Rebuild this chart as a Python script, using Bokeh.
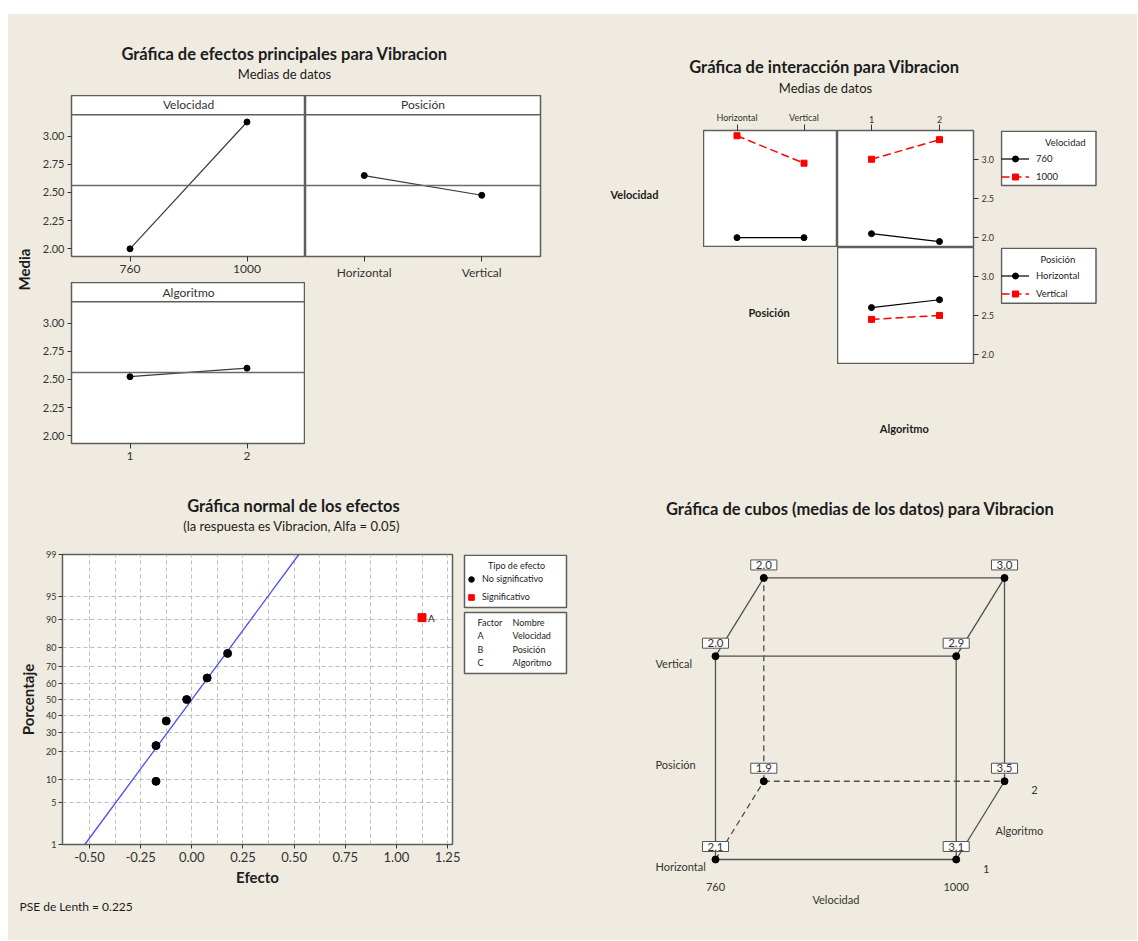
import math
from statistics import NormalDist
from bokeh.plotting import figure
from bokeh.models import (Range1d, FactorRange, FixedTicker, NumeralTickFormatter, Span, Label,
                          Legend, LegendItem, BoxAnnotation, Spacer)
from bokeh.layouts import row, column
from bokeh.core.properties import value
from bokeh.embed import file_html
from bokeh.resources import INLINE

BG = "#EFEBE1"
FONT = "Lato"
TXT = "#1c1c1c"
TICK = "#333333"
FRAME = "#5e5e5e"
LINEC = "#3a3a3a"
MEANC = "#6a6a6a"
RED = "#FF0000"
BLUE = "#4d4df0"
BGS = {"background-color": BG}

# ---------------- data ----------------
vel_levels = ["760", "1000"]
pos_levels = ["Horizontal", "Vertical"]
alg_levels = ["1", "2"]

# main effects (means of data)
vel_means = [2.000, 3.125]
pos_means = [2.650, 2.475]
alg_means = [2.525, 2.600]
grand_mean = 2.5625
me_ticks = [2.00, 2.25, 2.50, 2.75, 3.00]

# interaction means
int_vp_760 = [2.00, 2.00]
int_vp_1000 = [3.30, 2.95]
int_va_760 = [2.05, 1.95]
int_va_1000 = [3.00, 3.25]
int_pa_h = [2.60, 2.70]
int_pa_v = [2.45, 2.50]
int_ticks = [2.0, 2.5, 3.0]

# normal plot of effects
effect_terms = ["B", "AB", "ABC", "BC", "C", "AC", "A"]
effect_values = [-0.175, -0.175, -0.125, -0.025, 0.075, 0.175, 1.125]
effect_pct = [9.46, 22.97, 36.49, 50.00, 63.51, 77.03, 90.54]
effect_signif = [False, False, False, False, False, False, True]
fit_effect = [-0.523, 0.523]
fit_pct = [1.0, 99.0]
pct_ticks = [1, 5, 10, 20, 30, 40, 50, 60, 70, 80, 90, 95, 99]
effect_ticks = [-0.50, -0.25, 0.00, 0.25, 0.50, 0.75, 1.00, 1.25]
factor_codes = ["A", "B", "C"]
factor_names = ["Velocidad", "Posición", "Algoritmo"]
lenth_pse = 0.225

# cube plot
cube_vel = ["760", "1000", "760", "1000", "760", "1000", "760", "1000"]
cube_pos = ["Horizontal", "Horizontal", "Vertical", "Vertical",
            "Horizontal", "Horizontal", "Vertical", "Vertical"]
cube_alg = ["1", "1", "1", "1", "2", "2", "2", "2"]
cube_means = [2.1, 3.1, 2.0, 2.9, 1.9, 3.5, 2.0, 3.0]


# ---------------- helpers ----------------
def base_fig(**kw):
    p = figure(output_backend="svg", toolbar_location=None, **kw)
    p.background_fill_color = "white"
    p.border_fill_color = None
    p.outline_line_color = FRAME
    p.outline_line_width = 1.5
    p.grid.visible = False
    return p


def style_axis(ax, size, tick_out=4, standoff=3):
    ax.axis_line_color = None
    ax.major_tick_in = 0
    ax.major_tick_out = tick_out
    ax.minor_tick_in = 0
    ax.minor_tick_out = 0
    ax.major_tick_line_color = TICK
    ax.major_label_text_font = FONT
    ax.major_label_text_font_size = size
    ax.major_label_text_color = TICK
    ax.major_label_standoff = standoff


def text_panel(w, h, items=(), bt=0, bb=0):
    """Blank panel; item y is measured from the panel's top edge."""
    fh = h - bt - bb
    p = figure(width=w, height=h, x_range=Range1d(0, w), y_range=Range1d(0, fh),
               x_axis_type=None, y_axis_type=None, output_backend="svg",
               toolbar_location=None, min_border=0, min_border_top=bt, min_border_bottom=bb)
    p.outline_line_color = None
    p.background_fill_color = None
    p.border_fill_color = None
    for (x, y, txt, size, style, align, angle) in items:
        p.text(x=[x], y=[h - bb - y], text=[txt], text_font=value(FONT), text_font_size=size,
               text_font_style=style, text_color=TXT, text_align=align,
               text_baseline="middle", angle=angle)
    return p


def slabel(x, y, text, size, style="normal", align="center", color=TXT, level="annotation"):
    return Label(x=x, y=y, x_units="screen", y_units="screen", text=text, text_font=FONT,
                 text_font_size=size, text_font_style=style, text_color=color,
                 text_align=align, text_baseline="middle", level=level)


def sbox(left, right, bottom, top):
    return BoxAnnotation(left=left, right=right, bottom=bottom, top=top,
                         left_units="screen", right_units="screen",
                         top_units="screen", bottom_units="screen",
                         fill_color="white", fill_alpha=1.0, line_color=FRAME,
                         line_alpha=1.0, line_width=1.5, level="underlay")


def legend_fig(w, h, bt, bb, x_range, y_range):
    p = figure(width=w, height=h, x_range=x_range, y_range=y_range,
               x_axis_type=None, y_axis_type=None, output_backend="svg",
               toolbar_location=None, min_border=0, min_border_top=bt, min_border_bottom=bb)
    p.outline_line_color = None
    p.background_fill_color = None
    p.border_fill_color = None
    p.grid.visible = False
    return p


def make_legend(items, loc, **kw):
    # box is drawn separately (sbox); the title row is reserved with a blank and the
    # title text is placed as a Label so it can be centred / right-aligned
    opts = dict(padding=4, spacing=3, margin=0, glyph_width=28, glyph_height=15,
                label_height=15, label_width=52, label_standoff=7, title_standoff=5,
                label_text_font=FONT, label_text_font_size="9.5px", label_text_color=TXT,
                title_text_font=FONT, title_text_font_size="9.5px",
                title_text_font_style="normal", title_text_color=TXT,
                border_line_color=None, background_fill_alpha=0.0)
    opts.update(kw)
    return Legend(items=items, title=" ", location=loc, **opts)


# ---------------- Q1: main effects (582 x 466) ----------------
t1 = text_panel(582, 81, [
    (276, 39, "Gráfica de efectos principales para Vibracion", "16.5px", "bold", "center", 0),
    (276, 59, "Medias de datos", "13px", "normal", "center", 0)])
s1 = text_panel(27, 385, [(15, 174, "Media", "15px", "bold", "center", math.pi / 2)])

ME_Y = (1.932, 3.36)
ME_HDR = 3.19


def me_fig(levels, means, header, w, h, mbl, mbr, mbb, show_y):
    p = base_fig(width=w, height=h, x_range=FactorRange(factors=levels), y_range=Range1d(*ME_Y),
                 min_border_left=mbl, min_border_right=mbr, min_border_top=0,
                 min_border_bottom=mbb, y_axis_location="left" if show_y else None)
    style_axis(p.xaxis[0], "12px", 5, 3)
    if show_y:
        ya = p.yaxis[0]
        ya.ticker = FixedTicker(ticks=me_ticks)
        ya.formatter = NumeralTickFormatter(format="0.00")
        style_axis(ya, "11px", 4, 3)
    p.add_layout(Span(location=grand_mean, dimension="width", line_color=MEANC, line_width=1.5))
    p.add_layout(Span(location=ME_HDR, dimension="width", line_color=FRAME, line_width=1.5))
    p.line(x=levels, y=means, line_color=LINEC, line_width=1.2)
    p.scatter(x=levels, y=means, size=6, color="black")
    fw = w - mbl - mbr
    fh = h - mbb
    p.add_layout(slabel(fw / 2, fh - 10, header, "12px", color="#333333"))
    return p


me_vel = me_fig(vel_levels, vel_means, "Velocidad", 270, 187, 36, 0, 25, True)
me_pos = me_fig(pos_levels, pos_means, "Posición", 285, 187, 0, 50, 25, False)
me_alg = me_fig(alg_levels, alg_means, "Algoritmo", 270, 198, 36, 0, 37, True)
blank1 = text_panel(285, 198, bb=37)
q1 = column(t1, row(s1, column(row(me_vel, me_pos, styles=BGS),
                               row(me_alg, blank1, styles=BGS), styles=BGS), styles=BGS),
            styles=BGS)

# ---------------- Q2: interaction (547 x 466) ----------------
t2 = text_panel(547, 91, [
    (234, 52, "Gráfica de interacción para Vibracion", "16.5px", "bold", "center", 0),
    (235, 73, "Medias de datos", "13px", "normal", "center", 0)])
l2a = text_panel(113, 142, [(44, 89, "Velocidad", "11px", "bold", "center", 0)], bt=25)
l2b = text_panel(247, 117, [(178.6, 64.7, "Posición", "11px", "bold", "center", 0)])
l2c = text_panel(547, 116, [(313.8, 64, "Algoritmo", "11px", "bold", "center", 0)])

INT_Y = (1.874, 3.367)


def draw_pair(p, levels, yb, yr, visible=True):
    lb = p.line(x=levels, y=yb, line_color="black", line_width=1.2, visible=visible)
    sb = p.scatter(x=levels, y=yb, size=6, marker="circle", color="black", visible=visible)
    lr = p.line(x=levels, y=yr, line_color=RED, line_width=1.5, line_dash="8 4", visible=visible)
    sr = p.scatter(x=levels, y=yr, size=6, marker="square", color=RED, visible=visible)
    return lb, sb, lr, sr


def int_fig(levels, yb, yr, w, h, mbr, mbt, top_axis, right_axis):
    p = base_fig(width=w, height=h, x_range=FactorRange(factors=levels), y_range=Range1d(*INT_Y),
                 x_axis_location="above" if top_axis else None,
                 y_axis_location="right" if right_axis else None,
                 min_border_left=0, min_border_right=mbr, min_border_top=mbt, min_border_bottom=0)
    if top_axis:
        style_axis(p.xaxis[0], "9px", 6, 2)
    if right_axis:
        ya = p.yaxis[0]
        ya.ticker = FixedTicker(ticks=int_ticks)
        ya.formatter = NumeralTickFormatter(format="0.0")
        style_axis(ya, "9px", 5, 3)
    draw_pair(p, levels, yb, yr)
    return p


def int_legend_fig(title, labels, levels, yb, yr, w, h, bt, loc, box, title_pos, title_align):
    # legend keys: hidden copies of the same two series
    p = legend_fig(w, h, bt, 0, FactorRange(factors=levels), Range1d(*INT_Y))
    p.add_layout(sbox(*box))
    lb, sb, lr, sr = draw_pair(p, levels, yb, yr, visible=False)
    p.add_layout(make_legend([LegendItem(label=labels[0], renderers=[lb, sb]),
                              LegendItem(label=labels[1], renderers=[lr, sr])], loc))
    p.add_layout(slabel(title_pos[0], title_pos[1], title, "9.5px", align=title_align,
                        level="overlay"))
    return p


i1 = int_fig(pos_levels, int_vp_760, int_vp_1000, 134, 142, 0, 25, True, False)
i2 = int_fig(alg_levels, int_va_760, int_va_1000, 163, 142, 27, 25, True, True)
i3 = int_fig(alg_levels, int_pa_h, int_pa_v, 163, 117, 27, 0, False, True)
lg1 = int_legend_fig("Velocidad", vel_levels, alg_levels, int_va_760, int_va_1000,
                     137, 142, 25, (1, 63.5), (1, 95.5, 62, 116.2), (85, 105), "right")
lg2 = int_legend_fig("Posición", pos_levels, alg_levels, int_pa_h, int_pa_v,
                     137, 117, 0, (1, 63.5), (1, 95.5, 61.3, 116.2), (40, 105), "left")
q2 = column(t2, row(l2a, i1, i2, lg1, styles=BGS), row(l2b, i3, lg2, styles=BGS), l2c,
            styles=BGS)

# ---------------- Q3: normal plot of effects (582 x 460) ----------------
nd = NormalDist()


def zf(pct):
    return nd.inv_cdf(pct / 100.0)


t3 = text_panel(582, 70, [
    (285, 25, "Gráfica normal de los efectos", "16.5px", "bold", "center", 0),
    (285, 45, "(la respuesta es Vibracion, Alfa =  0.05)", "13px", "normal", "center", 0)])

NX = (-0.632, 1.274)
p3 = base_fig(width=452, height=343, x_range=Range1d(*NX), y_range=Range1d(zf(1), zf(99)),
              min_border_left=54, min_border_right=8, min_border_top=4, min_border_bottom=49)
p3.grid.visible = True
p3.xgrid.ticker = FixedTicker(ticks=[k * 0.125 for k in range(-4, 11)])
p3.ygrid.ticker = FixedTicker(ticks=[zf(t) for t in pct_ticks[1:-1]])
p3.grid.grid_line_color = "#bdbdbd"
p3.grid.grid_line_dash = "4 3"
p3.grid.grid_line_width = 1

xa = p3.xaxis[0]
xa.ticker = FixedTicker(ticks=effect_ticks)
xa.formatter = NumeralTickFormatter(format="0.00")
style_axis(xa, "13px", 4, 3)
xa.axis_label = "Efecto"
xa.axis_label_text_font = FONT
xa.axis_label_text_font_size = "15px"
xa.axis_label_text_font_style = "bold"
xa.axis_label_text_color = TXT
xa.axis_label_standoff = 3

ya3 = p3.yaxis[0]
ya3.ticker = FixedTicker(ticks=[zf(t) for t in pct_ticks])
ya3.major_label_overrides = {zf(t): str(t) for t in pct_ticks}
style_axis(ya3, "9px", 4, 2)
ya3.axis_label = "Porcentaje"
ya3.axis_label_text_font = FONT
ya3.axis_label_text_font_size = "15px"
ya3.axis_label_text_font_style = "bold"
ya3.axis_label_text_color = TXT
ya3.axis_label_standoff = 6

ns_x = [e for e, s in zip(effect_values, effect_signif) if not s]
ns_y = [zf(q) for q, s in zip(effect_pct, effect_signif) if not s]
s_x = [e for e, s in zip(effect_values, effect_signif) if s]
s_y = [zf(q) for q, s in zip(effect_pct, effect_signif) if s]
s_t = [t for t, s in zip(effect_terms, effect_signif) if s]

p3.line(x=fit_effect, y=[zf(v) for v in fit_pct], line_color=BLUE, line_width=1.3)
p3.scatter(x=ns_x, y=ns_y, size=8, marker="circle", color="black")
p3.scatter(x=s_x, y=s_y, size=8, marker="square", color=RED)
p3.text(x=s_x, y=s_y, text=s_t, x_offset=6, text_baseline="middle", text_font=value(FONT),
        text_font_size="10px", text_color=TXT)

# legend + factor table panel beside the plot (its frame lines up with p3's frame)
lp = legend_fig(130, 343, 4, 49, Range1d(*NX), Range1d(zf(1), zf(99)))
lp.add_layout(sbox(4, 106, 237, 289.2))
lp.add_layout(sbox(4, 106, 171, 232))
d_ns = lp.scatter(x=ns_x, y=ns_y, size=8, marker="circle", color="black", visible=False)
d_s = lp.scatter(x=s_x, y=s_y, size=8, marker="square", color=RED, visible=False)
lp.add_layout(make_legend([LegendItem(label="No significativo", renderers=[d_ns]),
                           LegendItem(label="Significativo", renderers=[d_s])],
                          (4, 239.5), spacing=2, glyph_width=14,
                          glyph_height=16, label_height=16, label_width=76, label_standoff=4,
                          title_standoff=3, label_text_font_size="9px",
                          title_text_font_size="9px"))
lp.add_layout(slabel(56, 279, "Tipo de efecto", "9px", level="overlay"))
lp.add_layout(slabel(17, 222, "Factor", "9px", align="left", level="overlay"))
lp.add_layout(slabel(52, 222, "Nombre", "9px", align="left", level="overlay"))
for k, (code, name) in enumerate(zip(factor_codes, factor_names)):
    yy = 209 - 13.5 * k
    lp.add_layout(slabel(17, yy, code, "9px", align="left", level="overlay"))
    lp.add_layout(slabel(52, yy, name, "9px", align="left", level="overlay"))

pse = text_panel(582, 47, [(11, 13, f"PSE de Lenth = {lenth_pse}", "12px", "normal", "left", 0)])
q3 = column(t3, row(p3, lp, styles=BGS), pse, styles=BGS)

# ---------------- Q4: cube plot (547 x 460) ----------------
ALG_DX, ALG_DY = 0.2007, 0.385
cx = [vel_levels.index(v) + ALG_DX * alg_levels.index(a) for v, a in zip(cube_vel, cube_alg)]
cy = [pos_levels.index(q) + ALG_DY * alg_levels.index(a) for q, a in zip(cube_pos, cube_alg)]

p4 = figure(width=547, height=460, x_range=Range1d(-0.5193, 1.7532), y_range=Range1d(-0.3984, 1.8643),
            x_axis_type=None, y_axis_type=None, output_backend="svg", toolbar_location=None,
            min_border=0)
p4.outline_line_color = None
p4.background_fill_color = None
p4.border_fill_color = None

hidden = [i for i in range(8) if cube_vel[i] == vel_levels[0] and cube_pos[i] == pos_levels[0]
          and cube_alg[i] == alg_levels[1]][0]
sol = {"x0": [], "y0": [], "x1": [], "y1": []}
das = {"x0": [], "y0": [], "x1": [], "y1": []}
for i in range(8):
    for j in range(i + 1, 8):
        diff = (cube_vel[i] != cube_vel[j]) + (cube_pos[i] != cube_pos[j]) + (cube_alg[i] != cube_alg[j])
        if diff == 1:
            d = das if hidden in (i, j) else sol
            d["x0"].append(cx[i]); d["y0"].append(cy[i])
            d["x1"].append(cx[j]); d["y1"].append(cy[j])
p4.segment(x0=sol["x0"], y0=sol["y0"], x1=sol["x1"], y1=sol["y1"], line_color="#505050", line_width=1.3)
p4.segment(x0=das["x0"], y0=das["y0"], x1=das["x1"], y1=das["y1"], line_color="#505050",
           line_width=1.3, line_dash="6 4")
p4.scatter(x=cx, y=cy, size=7, color="black")

for i in range(8):
    lab = Label(x=cx[i], y=cy[i], y_offset=13, text=f"{cube_means[i]:.1f}", text_font=FONT,
                text_font_size="11.5px", text_color="#333333", text_align="center",
                text_baseline="middle", border_line_color="#555555", border_line_width=1,
                background_fill_color="white", background_fill_alpha=1.0)
    for pad in ({"left": 5, "right": 5, "top": 1, "bottom": 1}, 2):
        try:
            lab.padding = pad
            break
        except Exception:
            continue
    p4.add_layout(lab)

TX = dict(text_font=value(FONT), text_font_size="11px", text_color="#333333", text_baseline="middle")
p4.text(x=[vel_levels.index(v) for v in vel_levels], y=[0, 0], text=vel_levels,
        y_offset=27, text_align="center", **TX)
p4.text(x=[0.5], y=[0], text=["Velocidad"], y_offset=40, text_align="center", **TX)
p4.text(x=[0, 0], y=[pos_levels.index(q) for q in pos_levels], text=pos_levels,
        x_offset=-60, y_offset=7, text_align="left", **TX)
p4.text(x=[0], y=[0.5], text=["Posición"], x_offset=-60, y_offset=7, text_align="left", **TX)
p4.text(x=[1 + ALG_DX * alg_levels.index(a) for a in alg_levels],
        y=[ALG_DY * alg_levels.index(a) for a in alg_levels], text=alg_levels,
        x_offset=30, y_offset=9, text_align="center", **TX)
p4.text(x=[1 + ALG_DX / 2], y=[ALG_DY / 2], text=["Algoritmo"], x_offset=39, y_offset=10,
        text_align="center", **TX)
p4.add_layout(slabel(269.7, 431.7, "Gráfica de cubos (medias de los datos) para Vibracion",
                     "16.5px", "bold"))

# ---------------- layout ----------------
main = column(row(q1, q2, styles=BGS), row(q3, p4, styles=BGS), styles=BGS)
layout = column(Spacer(width=1137, height=14), row(Spacer(width=8, height=926), main))
open("out.html", "w").write(file_html(layout, INLINE))
